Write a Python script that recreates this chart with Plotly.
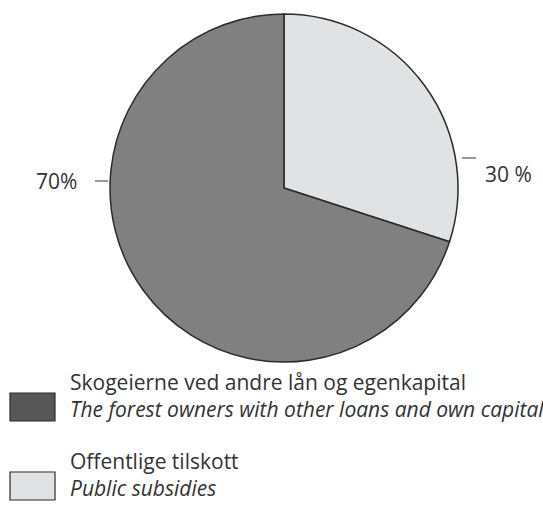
import plotly.graph_objects as go

# data
labels = ['Skogeierne ved andre lån og egenkapital', 'Offentlige tilskott']
labels_en = ['The forest owners with other loans and own capital', 'Public subsidies']
values = [70, 30]
pct_text = ['70%', '30 %']
pie_colors = ['#808080', '#e1e2e4']
legend_colors = ['#575757', '#e1e2e4']

W, H = 543, 506
txt = '#333333'
fonte = 'Open Sans'


def px(x):
    return x / W


def py(y):
    return 1 - y / H


# light slice first so it sits on the right, going clockwise from 12 o'clock
fig = go.Figure(go.Pie(
    labels=labels[::-1],
    values=values[::-1],
    sort=False,
    direction='clockwise',
    rotation=0,
    textinfo='none',
    hoverinfo='label+percent',
    marker=dict(colors=pie_colors[::-1], line=dict(color='#2b2b2b', width=1.5)),
    domain=dict(x=[px(109), px(459)], y=[py(362), py(14)]),
    showlegend=False,
))

# slice labels with short tick lines
fig.add_shape(type='line', xref='paper', yref='paper',
              x0=px(95), x1=px(108), y0=py(181), y1=py(181),
              line=dict(color=txt, width=1))
fig.add_annotation(x=px(56), y=py(181), xref='paper', yref='paper',
                   text=pct_text[0], showarrow=False, xanchor='center',
                   font=dict(size=21, color=txt, family=fonte))
fig.add_shape(type='line', xref='paper', yref='paper',
              x0=px(462), x1=px(476), y0=py(158), y1=py(158),
              line=dict(color=txt, width=1))
fig.add_annotation(x=px(483), y=py(158), xref='paper', yref='paper',
                   text=pct_text[1], showarrow=False, xanchor='left',
                   font=dict(size=21, color=txt, family=fonte))

# legend drawn by hand (box colours differ from the slices)
tops = [393, 472]
for i in range(2):
    t = tops[i]
    fig.add_shape(type='rect', xref='paper', yref='paper',
                  x0=px(10), x1=px(55), y0=py(t), y1=py(t + 28),
                  fillcolor=legend_colors[i], line=dict(color='#2b2b2b', width=1.2))
    fig.add_annotation(x=px(68), y=py(t + 2), xref='paper', yref='paper',
                       text=labels[i] + '<br><i>' + labels_en[i] + '</i>',
                       showarrow=False, xanchor='left', yanchor='middle', align='left',
                       font=dict(size=21, color=txt, family=fonte))

fig.update_layout(
    width=W, height=H,
    margin=dict(l=0, r=0, t=0, b=0),
    paper_bgcolor='white',
    plot_bgcolor='white',
)

# page body has an 8px default margin; drop it so the figure fills the window
fig.write_html("out.html", config={'displayModeBar': False},
               post_script="document.body.style.margin='0';")
